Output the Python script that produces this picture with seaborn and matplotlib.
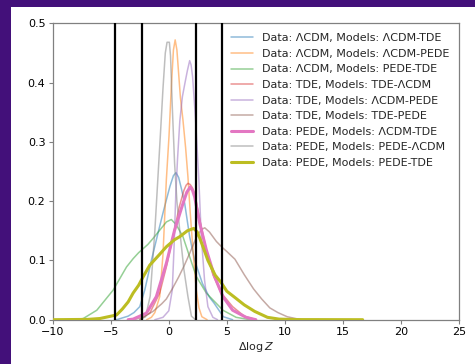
import matplotlib
matplotlib.use("Agg")
import matplotlib.pyplot as plt
import seaborn as sns
import pandas as pd

# ---------------- data ----------------
labels = [
    "Data: ΛCDM, Models: ΛCDM-TDE",
    "Data: ΛCDM, Models: ΛCDM-PEDE",
    "Data: ΛCDM, Models: PEDE-TDE",
    "Data: TDE, Models: TDE-ΛCDM",
    "Data: TDE, Models: ΛCDM-PEDE",
    "Data: TDE, Models: TDE-PEDE",
    "Data: PEDE, Models: ΛCDM-TDE",
    "Data: PEDE, Models: PEDE-ΛCDM",
    "Data: PEDE, Models: PEDE-TDE",
]

blue_x = [-4.5, -3.5, -3.0, -2.5, -2.07, -1.5, -0.93, -0.5, -0.21, 0.1, 0.4, 0.62, 0.85, 1.1, 1.37, 1.8, 2.23, 2.9, 3.5, 3.9, 4.7, 5.5]
blue_y = [0.0, 0.006, 0.012, 0.022, 0.05, 0.10, 0.146, 0.18, 0.202, 0.225, 0.243, 0.248, 0.24, 0.22, 0.196, 0.14, 0.10, 0.061, 0.038, 0.028, 0.005, 0.0]

orange_x = [-1.9, -1.5, -1.2, -0.78, -0.5, -0.21, 0.02, 0.22, 0.4, 0.55, 0.7, 0.85, 1.0, 1.22, 1.45, 1.65, 1.85, 2.08, 2.37, 2.6, 2.85, 3.3]
orange_y = [0.0, 0.004, 0.012, 0.039, 0.11, 0.236, 0.31, 0.393, 0.455, 0.472, 0.455, 0.415, 0.375, 0.337, 0.29, 0.241, 0.18, 0.118, 0.05, 0.02, 0.005, 0.0]

green_x = [-8.0, -7.37, -6.2, -4.79, -3.64, -3.07, -2.6, -2.2, -1.8, -1.36, -0.78, -0.2, 0.22, 0.65, 1.22, 1.8, 2.37, 3.23, 4.37, 4.66, 5.8, 7.0]
green_y = [0.0, 0.002, 0.016, 0.05, 0.089, 0.103, 0.113, 0.12, 0.127, 0.137, 0.151, 0.165, 0.169, 0.16, 0.14, 0.106, 0.073, 0.045, 0.022, 0.016, 0.004, 0.0]

red_x = [-2.5, -1.64, -0.78, -0.21, 0.36, 0.9, 1.3, 1.5, 1.65, 1.85, 2.05, 2.23, 2.5, 2.8, 3.23, 3.8, 4.52, 5.5, 6.5, 7.5]
red_y = [0.0, 0.011, 0.045, 0.089, 0.14, 0.19, 0.218, 0.227, 0.23, 0.228, 0.222, 0.213, 0.185, 0.157, 0.118, 0.076, 0.045, 0.022, 0.006, 0.0]

purple_x = [-1.2, -0.5, 0.0, 0.3, 0.45, 0.6, 0.75, 0.95, 1.17, 1.4, 1.6, 1.8, 1.92, 2.05, 2.3, 2.58, 2.8, 3.08, 3.37, 3.8, 4.2]
purple_y = [0.0, 0.004, 0.015, 0.05, 0.12, 0.21, 0.27, 0.335, 0.376, 0.4, 0.42, 0.437, 0.43, 0.41, 0.34, 0.24, 0.14, 0.067, 0.022, 0.004, 0.0]

brown_x = [-3.0, -2.27, -1.36, -0.6, -0.21, 0.3, 0.85, 1.3, 1.8, 2.4, 2.8, 3.1, 3.5, 4.1, 4.6, 5.0, 5.7, 6.5, 7.3, 8.0, 8.7, 9.4, 10.2, 11.4]
brown_y = [0.0, 0.004, 0.014, 0.027, 0.035, 0.052, 0.072, 0.09, 0.112, 0.14, 0.152, 0.155, 0.148, 0.132, 0.122, 0.115, 0.102, 0.076, 0.052, 0.035, 0.02, 0.012, 0.005, 0.0]

pink_x = [-3.5, -3.07, -1.93, -1.07, -0.21, 0.5, 1.22, 1.55, 1.85, 2.05, 2.23, 2.66, 3.23, 3.94, 4.66, 5.5, 6.66, 7.5]
pink_y = [0.0, 0.001, 0.011, 0.039, 0.095, 0.151, 0.196, 0.215, 0.224, 0.218, 0.207, 0.163, 0.118, 0.073, 0.039, 0.016, 0.004, 0.0]

gray_x = [-2.5, -2.0, -1.6, -1.2, -0.95, -0.7, -0.5, -0.3, -0.15, 0.05, 0.15, 0.3, 0.5, 0.7, 0.94, 1.3, 1.65, 1.95, 2.3]
gray_y = [0.0, 0.005, 0.04, 0.15, 0.235, 0.32, 0.39, 0.45, 0.468, 0.468, 0.445, 0.36, 0.264, 0.2, 0.151, 0.085, 0.039, 0.006, 0.0]

olive_x = [-10.0, -7.0, -5.93, -4.5, -4.0, -3.5, -3.07, -2.6, -2.22, -1.64, -0.8, -0.21, 0.5, 0.94, 1.6, 2.15, 2.45, 2.66, 3.0, 3.37, 4.0, 4.5, 5.0, 5.66, 6.5, 7.4, 8.5, 9.5, 11.0, 16.7]
olive_y = [0.0, 0.0005, 0.002, 0.008, 0.018, 0.03, 0.045, 0.058, 0.072, 0.092, 0.11, 0.123, 0.135, 0.14, 0.15, 0.154, 0.148, 0.138, 0.12, 0.10, 0.075, 0.063, 0.048, 0.038, 0.025, 0.014, 0.004, 0.001, 0.0002, 0.0]

xs_list = [blue_x, orange_x, green_x, red_x, purple_x, brown_x, pink_x, gray_x, olive_x]
ys_list = [blue_y, orange_y, green_y, red_y, purple_y, brown_y, pink_y, gray_y, olive_y]

jeffreys = [-4.605, -2.303, 2.303, 4.605]
x_ticks = [-10, -5, 0, 5, 10, 15, 20, 25]
y_ticks = [0.0, 0.1, 0.2, 0.3, 0.4, 0.5]

# ---------------- styling ----------------
colors = ["#1f77b4", "#ff7f0e", "#2ca02c", "#d62728", "#9467bd",
          "#8c564b", "#e377c2", "#7f7f7f", "#bcbd22"]
thick = [False, False, False, False, False, False, True, False, True]

sns.set_style("white")
plt.rcParams['font.family'] = ['DejaVu Sans']

fig = plt.figure(figsize=(4.75, 3.64), dpi=100, facecolor="#43107a")
bg = fig.add_axes([11 / 475, 0, 1 - 11 / 475, 1 - 7 / 364], zorder=-10)
bg.set_facecolor("white")
bg.set_xticks([])
bg.set_yticks([])
for s in bg.spines.values():
    s.set_visible(False)

ax = fig.add_axes([52.7 / 475, (364 - 319.7) / 364, (459 - 52.7) / 475, (319.7 - 23.3) / 364], zorder=1)
ax.set_facecolor("white")

for lab, xs, ys, c, t in zip(labels, xs_list, ys_list, colors, thick):
    df = pd.DataFrame({"x": xs, "y": ys})
    if t:
        sns.lineplot(data=df, x="x", y="y", ax=ax, color=c, lw=2.2, alpha=1.0,
                     label=lab, sort=False, estimator=None, zorder=3)
    else:
        sns.lineplot(data=df, x="x", y="y", ax=ax, color=c, lw=1.1, alpha=0.5,
                     label=lab, sort=False, estimator=None, zorder=2)

for v in jeffreys:
    ax.axvline(v, color="black", lw=1.6, zorder=4)

ax.set_xlim(-10, 25)
ax.set_ylim(0, 0.5)
ax.set_xticks(x_ticks)
ax.set_yticks(y_ticks)
ax.set_xticklabels([f"{t:d}".replace("-", "\u2212") for t in x_ticks])
ax.set_yticklabels([f"{t:.1f}" for t in y_ticks])
ax.set_xlabel(r"$\Delta\log Z$", fontsize=8, labelpad=2)
ax.set_ylabel("")
ax.tick_params(axis="both", labelsize=8, length=2.6, width=0.8, pad=2.6,
               color="#808080", labelcolor="black", left=True, bottom=True)
for s in ax.spines.values():
    s.set_color("#808080")
    s.set_linewidth(0.9)
    s.set_visible(True)

leg = ax.legend(loc="upper right", fontsize=8, frameon=False)

fig.savefig("out.png", dpi=100, facecolor=fig.get_facecolor())
